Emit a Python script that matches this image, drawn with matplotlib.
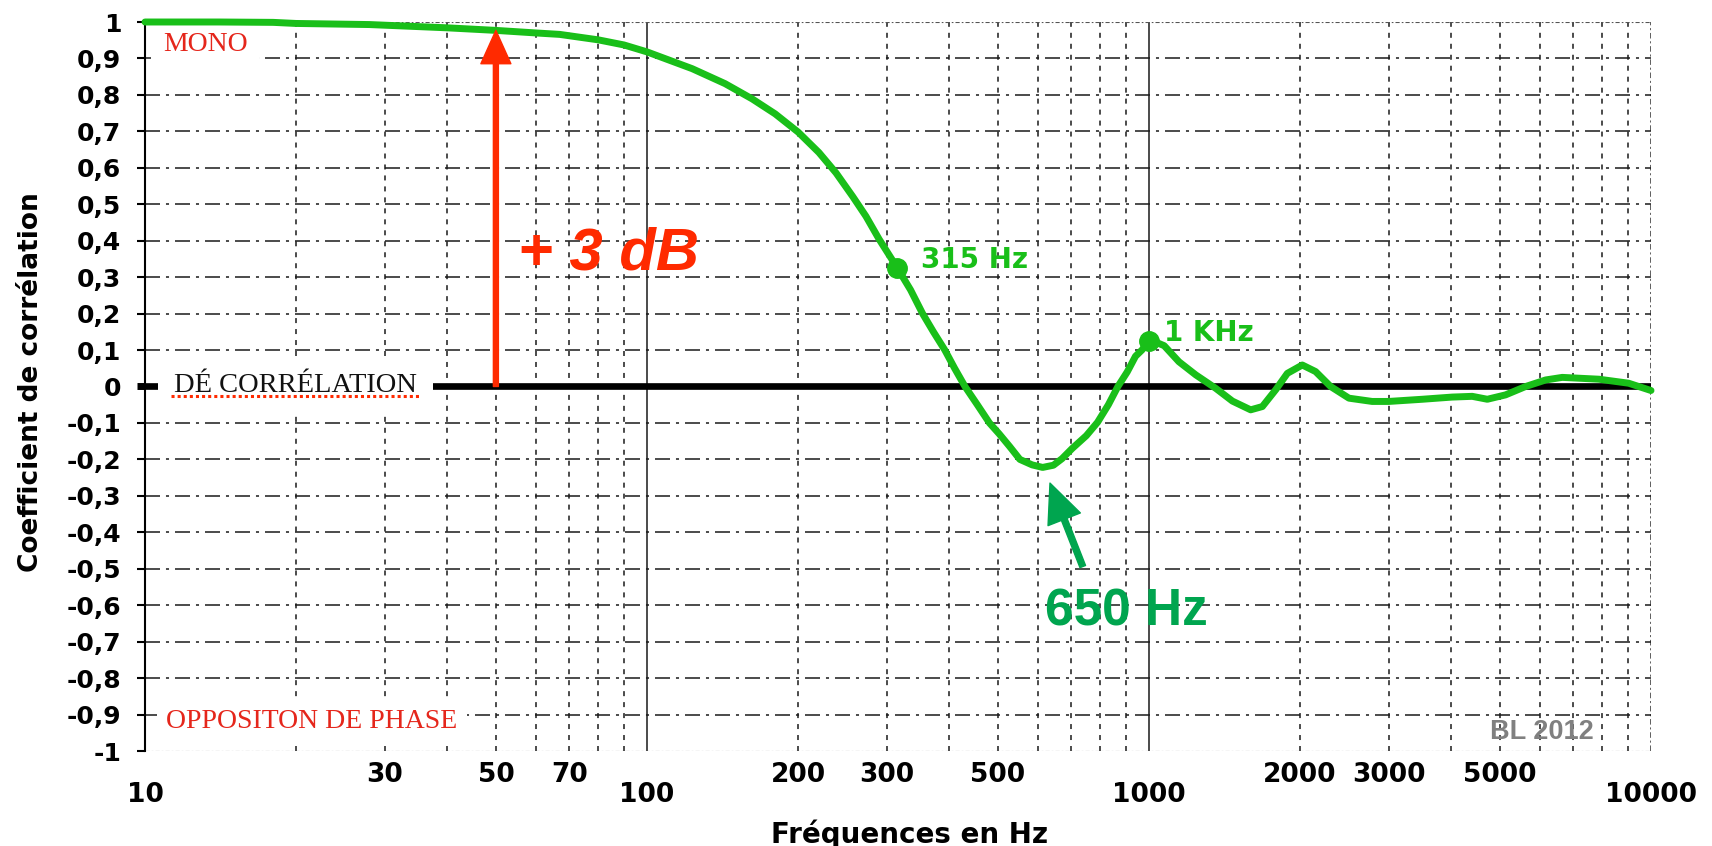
import numpy as np
import matplotlib
matplotlib.use('Agg')
import matplotlib.pyplot as plt
from matplotlib.ticker import FixedLocator, FixedFormatter, NullFormatter

plt.rcParams['lines.scale_dashes'] = False
plt.rcParams['font.weight'] = 'bold'

# courbe (Hz -> coefficient de correlation)
freq = [10, 14, 18, 20, 28, 40, 50, 60, 67, 80, 90, 100, 123, 143, 162, 180,
        200, 220, 238, 257, 273, 290, 315, 335, 354, 372, 392, 410, 430, 455,
        481, 503, 528, 553, 585, 614, 645, 671, 703, 750, 790, 830, 867, 905,
        940, 968, 1000, 1030, 1072, 1147, 1239, 1358, 1466, 1594, 1682, 1788,
        1886, 2020, 2147, 2300, 2502, 2783, 3003, 3503, 4018, 4405, 4720, 5132,
        5627, 6170, 6656, 7877, 9025, 10000]
corr = [1.000, 1.000, 0.999, 0.996, 0.993, 0.984, 0.977, 0.970, 0.966, 0.951,
        0.937, 0.918, 0.872, 0.831, 0.789, 0.748, 0.698, 0.642, 0.586, 0.521,
        0.467, 0.404, 0.326, 0.265, 0.200, 0.150, 0.100, 0.050, 0.000, -0.050,
        -0.100, -0.130, -0.165, -0.200, -0.215, -0.222, -0.216, -0.198, -0.170,
        -0.135, -0.098, -0.050, 0.000, 0.040, 0.083, 0.100, 0.124, 0.122, 0.112,
        0.068, 0.032, -0.005, -0.040, -0.064, -0.055, -0.009, 0.036, 0.059,
        0.041, 0.000, -0.032, -0.041, -0.041, -0.035, -0.029, -0.027, -0.035,
        -0.023, 0.000, 0.018, 0.025, 0.020, 0.009, -0.011]

mark_f = [315, 1000]
mark_v = [0.326, 0.124]
mark_txt = ['315 Hz', '1 KHz']

x_ticks = [10, 30, 50, 70, 100, 200, 300, 500, 1000, 2000, 3000, 5000, 10000]
x_labels = ['10', '30', '50', '70', '100', '200', '300', '500', '1000',
            '2000', '3000', '5000', '10000']
x_low = ['10', '100', '1000', '10000']
x_minor = [20, 40, 60, 80, 90, 400, 600, 700, 800, 900,
           4000, 6000, 7000, 8000, 9000]

y_ticks = [1, 0.9, 0.8, 0.7, 0.6, 0.5, 0.4, 0.3, 0.2, 0.1, 0,
           -0.1, -0.2, -0.3, -0.4, -0.5, -0.6, -0.7, -0.8, -0.9, -1]
y_labels = ['1', '0,9', '0,8', '0,7', '0,6', '0,5', '0,4', '0,3', '0,2', '0,1', '0',
            '-0,1', '-0,2', '-0,3', '-0,4', '-0,5', '-0,6', '-0,7', '-0,8', '-0,9', '-1']

arrow_f = 50
min_tip = (635, -0.265)
min_tail = (738, -0.494)

green = '#19bf19'
dgreen = '#00a54f'
red = '#ff2a00'

fig = plt.figure(figsize=(17.12, 8.46), dpi=100)
ax = fig.add_axes([145 / 1712, 95 / 846, 1506 / 1712, 729 / 846])
ax.set_xscale('log')
ax.set_xlim(10, 10000)
ax.set_ylim(-1, 1)

ax.xaxis.set_major_locator(FixedLocator(x_ticks))
ax.xaxis.set_major_formatter(FixedFormatter(x_labels))
ax.xaxis.set_minor_locator(FixedLocator(x_minor))
ax.xaxis.set_minor_formatter(NullFormatter())
ax.set_yticks(y_ticks, y_labels)

ax.tick_params(axis='x', which='both', length=0, labelsize=19, pad=8)
ax.tick_params(axis='y', length=6, width=1.5, pad=11, labelsize=18)

ax.grid(True, axis='y', which='major', color='#1a1a1a', lw=1.1,
        ls=(0, (10.8, 4.3, 2.2, 4.3)))
ax.grid(True, axis='x', which='both', color='#1a1a1a', lw=1.1,
        ls=(0, (3.6, 4.3)))

for t, lab in zip(ax.xaxis.get_major_ticks(), x_labels):
    if lab in x_low:
        t.set_pad(22)
    if lab in ('100', '1000'):
        t.gridline.set_linestyle('-')
    if lab == '10000':
        t.gridline.set_linestyle((0, (4, 2, 1.5, 2)))
        t.gridline.set_color('#333333')

for t, v in zip(ax.yaxis.get_major_ticks(), y_ticks):
    if v in (1, -1):
        t.gridline.set_linestyle((0, (3, 1.5, 1.2, 1.5)))
        t.gridline.set_color('#555555')
        t.gridline.set_linewidth(0.8)
    if v == 0:
        t.tick1line.set_markeredgewidth(5)

for s in ('top', 'right', 'bottom'):
    ax.spines[s].set_visible(False)
ax.spines['left'].set_linewidth(1.5)

ax.axhline(0, color='black', lw=4.8, zorder=2)

ax.plot(freq, corr, color=green, lw=5, zorder=4, clip_on=False,
        solid_capstyle='round', solid_joinstyle='round')
ax.plot(mark_f, mark_v, 'o', ms=14, color=green, zorder=5)
for f, v, s, dx in zip(mark_f, mark_v, mark_txt, [17, 11]):
    ax.annotate(s, xy=(f, v), xytext=(dx, 0), textcoords='offset points',
                va='baseline', ha='left', fontsize=20, color=green, zorder=5)

# fleche +3 dB
tip = np.interp(np.log10(arrow_f), np.log10(freq), corr)
ax.annotate('', xy=(arrow_f, tip), xytext=(arrow_f, 0),
            arrowprops=dict(color=red, width=3.6, headwidth=21.6,
                            headlength=24, shrink=0), zorder=5)
ax.text(0.2477, 0.66, '+ 3 dB', transform=ax.transAxes, fontsize=43,
        family='Liberation Sans', style='italic', color=red, va='baseline',
        zorder=5)

# fleche 650 Hz
ax.annotate('', xy=min_tip, xytext=min_tail,
            arrowprops=dict(color=dgreen, width=4.3, headwidth=25,
                            headlength=28, shrink=0), zorder=5)
ax.text(0.5976, 0.1728, '650 Hz', transform=ax.transAxes, fontsize=37,
        family='Liberation Sans', color=dgreen, va='baseline', zorder=5)

ax.text(0.012, 0.960, 'MONO', transform=ax.transAxes, family='Liberation Serif',
        weight='normal', fontsize=20, color='#e5261b', va='baseline', zorder=3,
        bbox=dict(boxstyle='square,pad=0.42', fc='white', ec='none'))
ax.text(0.0193, 0.4925, 'DÉ CORRÉLATION', transform=ax.transAxes,
        family='Liberation Serif', weight='normal', fontsize=20.5, color='#111111',
        va='baseline', zorder=3,
        bbox=dict(boxstyle='square,pad=0.55', fc='white', ec='none'))
ax.plot([0.0173, 0.1826], [0.487, 0.487], transform=ax.transAxes, color=red,
        lw=2.2, ls=(0, (2.2, 2.2)), zorder=3.5, clip_on=False)
ax.text(0.014, 0.0316, 'OPPOSITON DE PHASE', transform=ax.transAxes,
        family='Liberation Serif', weight='normal', fontsize=20, color='#e5261b',
        va='baseline', zorder=3,
        bbox=dict(boxstyle='square,pad=0.33', fc='white', ec='none'))
ax.text(0.893, 0.0165, 'BL 2012', transform=ax.transAxes,
        family='Liberation Sans', fontsize=19.5, color='#808080',
        va='baseline', zorder=3)

fig.text(0.0179, 0.5479, 'Coefficient de corrélation', rotation=90,
         ha='center', va='center', fontsize=19)
fig.text(0.531, 0.0035, 'Fréquences en Hz', ha='center', va='baseline',
         fontsize=20)

fig.savefig('out.png', dpi=100)
